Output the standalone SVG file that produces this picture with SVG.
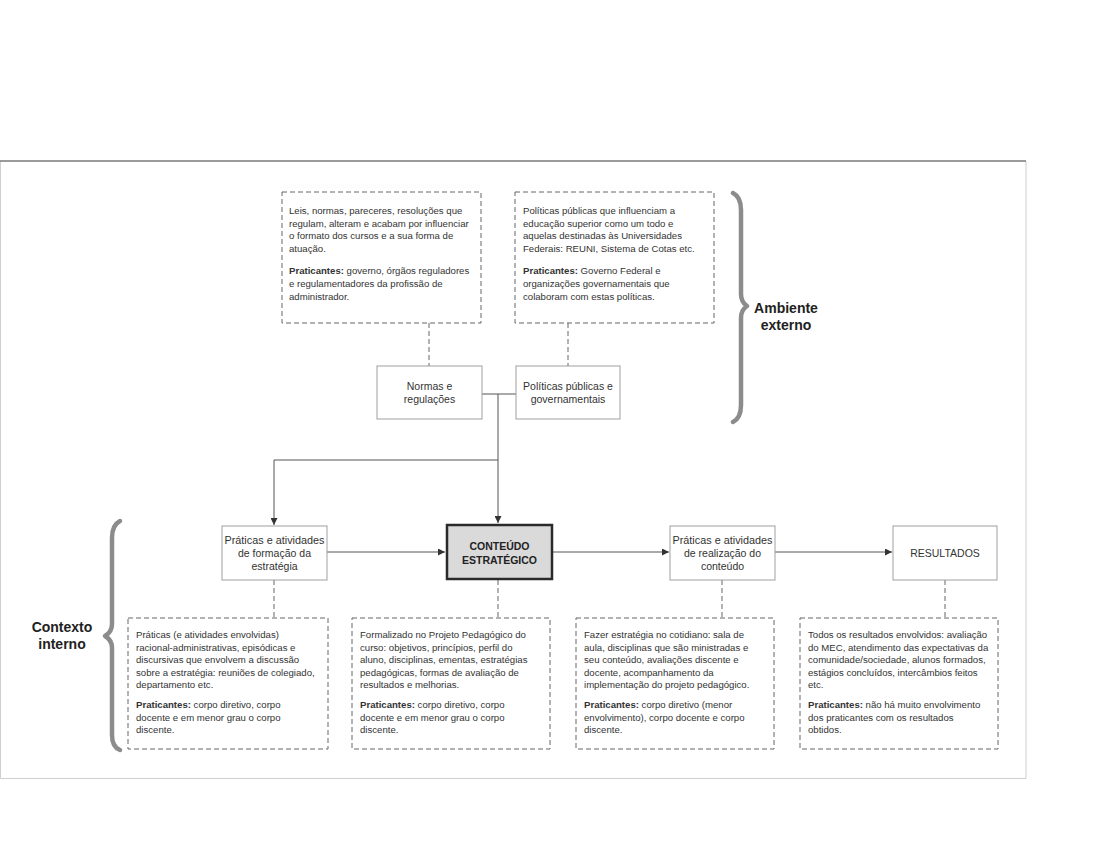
<svg xmlns="http://www.w3.org/2000/svg" width="1106" height="863" viewBox="0 0 1106 863">
<defs>
<style>
.t{font-family:"Liberation Sans",Arial,sans-serif;font-size:9.6px;fill:#333}
.b{font-weight:bold}
.n{font-family:"Liberation Sans",Arial,sans-serif;font-size:10.5px;fill:#333;text-anchor:middle}
.big{font-family:"Liberation Sans",Arial,sans-serif;font-size:14px;font-weight:bold;fill:#222;text-anchor:middle}
.dash{fill:#fff;stroke:#666;stroke-width:1;stroke-dasharray:5 3}
.dl{fill:none;stroke:#666;stroke-width:1;stroke-dasharray:5 3}
.box{fill:#fff;stroke:#a0a0a0;stroke-width:1}
.ln{fill:none;stroke:#555;stroke-width:1}
.brace{fill:none;stroke:#8c8c8c;stroke-width:4.5;stroke-linecap:round;stroke-linejoin:round}
</style>
<marker id="ah" viewBox="0 0 10 10" refX="10" refY="5" markerWidth="7" markerHeight="7" markerUnits="userSpaceOnUse" orient="auto">
<path d="M0,0 L10,5 L0,10 z" fill="#333"/>
</marker>
</defs>
<rect x="0" y="0" width="1106" height="863" fill="#fff"/>
<g id="frame">
<path d="M0.5,161 V778.5 H1026 V161" fill="none" stroke="#cfcfcf" stroke-width="1"/>
<line x1="0" y1="161" x2="1026" y2="161" stroke="#7a7a7a" stroke-width="1.5"/>
</g>
<g id="connectors">
<line class="dl" x1="429" y1="323" x2="429" y2="366"/>
<line class="dl" x1="568" y1="323" x2="568" y2="366"/>
<line class="ln" x1="482" y1="394" x2="516" y2="394"/>
<line class="ln" x1="498" y1="394" x2="498" y2="523" marker-end="url(#ah)"/>
<polyline class="ln" points="498,460 274,460 274,525" marker-end="url(#ah)"/>
<line class="ln" x1="327" y1="552" x2="445" y2="552" marker-end="url(#ah)"/>
<line class="ln" x1="552" y1="552" x2="669" y2="552" marker-end="url(#ah)"/>
<line class="ln" x1="775" y1="552" x2="892" y2="552" marker-end="url(#ah)"/>
<line class="dl" x1="274" y1="580" x2="274" y2="618"/>
<line class="dl" x1="498" y1="580" x2="498" y2="618"/>
<line class="dl" x1="722" y1="580" x2="722" y2="618"/>
<line class="dl" x1="945" y1="580" x2="945" y2="618"/>
</g>
<g id="ext1">
<rect class="dash" x="282" y="192" width="199" height="131"/>
<text class="t" x="289" y="214">Leis, normas, pareceres, resoluções que</text>
<text class="t" x="289" y="226.5">regulam, alteram e acabam por influenciar</text>
<text class="t" x="289" y="239">o formato dos cursos e a sua forma de</text>
<text class="t" x="289" y="251.5">atuação.</text>
<text class="t" x="289" y="274"><tspan class="b">Praticantes:</tspan> governo, órgãos reguladores</text>
<text class="t" x="289" y="287">e regulamentadores da profissão de</text>
<text class="t" x="289" y="299.5">administrador.</text>
</g>
<g id="ext2">
<rect class="dash" x="515" y="192" width="199" height="131"/>
<text class="t" x="523" y="214">Políticas públicas que influenciam a</text>
<text class="t" x="523" y="226.5">educação superior como um todo e</text>
<text class="t" x="523" y="239">aquelas destinadas às Universidades</text>
<text class="t" x="523" y="251.5">Federais: REUNI, Sistema de Cotas etc.</text>
<text class="t" x="523" y="274"><tspan class="b">Praticantes:</tspan> Governo Federal e</text>
<text class="t" x="523" y="287">organizações governamentais que</text>
<text class="t" x="523" y="299.5">colaboram com estas políticas.</text>
</g>
<g id="normas">
<rect class="box" x="377" y="366" width="105" height="53"/>
<text class="n" x="429.5" y="390">Normas e</text>
<text class="n" x="429.5" y="403">regulações</text>
</g>
<g id="politicas">
<rect class="box" x="516" y="366" width="104" height="53"/>
<text class="n" x="568" y="390">Políticas públicas e</text>
<text class="n" x="568" y="403">governamentais</text>
</g>
<g id="brace-ext">
<path class="brace" d="M733,193 Q741,197 741,210 V294 Q741,302 747,306 Q741,310 741,318 V405 Q741,418 733,422"/>
<text class="big" x="786" y="313">Ambiente</text>
<text class="big" x="786" y="330">externo</text>
</g>
<g id="formacao">
<rect class="box" x="222" y="526" width="105" height="54"/>
<text class="n" x="274.5" y="544" textLength="100" lengthAdjust="spacingAndGlyphs">Práticas e atividades</text>
<text class="n" x="274.5" y="557">de formação da</text>
<text class="n" x="274.5" y="570">estratégia</text>
</g>
<g id="conteudo">
<rect x="447" y="525" width="105" height="54" fill="#dadada" stroke="#2a2a2a" stroke-width="2.5"/>
<text class="n b" x="499.5" y="550" style="font-size:10.5px;fill:#222">CONTEÚDO</text>
<text class="n b" x="499.5" y="564" style="font-size:10.5px;fill:#222">ESTRATÉGICO</text>
</g>
<g id="realizacao">
<rect class="box" x="670" y="526" width="105" height="54"/>
<text class="n" x="722.5" y="544" textLength="100" lengthAdjust="spacingAndGlyphs">Práticas e atividades</text>
<text class="n" x="722.5" y="557">de realização do</text>
<text class="n" x="722.5" y="570">conteúdo</text>
</g>
<g id="resultados">
<rect class="box" x="893" y="526" width="104" height="54"/>
<text class="n" x="945" y="556.5">RESULTADOS</text>
</g>
<g id="brace-int">
<path class="brace" d="M120,521 Q112,525 112,538 V624 Q112,632 105,636 Q112,640 112,648 V735 Q112,747 120,750"/>
<text class="big" x="62" y="632">Contexto</text>
<text class="big" x="62" y="649">interno</text>
</g>
<g id="int1">
<rect class="dash" x="128" y="618" width="200" height="131"/>
<text class="t" x="136" y="638">Práticas (e atividades envolvidas)</text>
<text class="t" x="136" y="650.5">racional-administrativas, episódicas e</text>
<text class="t" x="136" y="663">discursivas que envolvem a discussão</text>
<text class="t" x="136" y="675.5">sobre a estratégia: reuniões de colegiado,</text>
<text class="t" x="136" y="688">departamento etc.</text>
<text class="t" x="136" y="708"><tspan class="b">Praticantes:</tspan> corpo diretivo, corpo</text>
<text class="t" x="136" y="720.5">docente e em menor grau o corpo</text>
<text class="t" x="136" y="733">discente.</text>
</g>
<g id="int2">
<rect class="dash" x="352" y="618" width="198" height="131"/>
<text class="t" x="360" y="638">Formalizado no Projeto Pedagógico do</text>
<text class="t" x="360" y="650.5">curso: objetivos, princípios, perfil do</text>
<text class="t" x="360" y="663">aluno, disciplinas, ementas, estratégias</text>
<text class="t" x="360" y="675.5">pedagógicas, formas de avaliação de</text>
<text class="t" x="360" y="688">resultados e melhorias.</text>
<text class="t" x="360" y="708"><tspan class="b">Praticantes:</tspan> corpo diretivo, corpo</text>
<text class="t" x="360" y="720.5">docente e em menor grau o corpo</text>
<text class="t" x="360" y="733">discente.</text>
</g>
<g id="int3">
<rect class="dash" x="576" y="618" width="198" height="131"/>
<text class="t" x="584" y="638">Fazer estratégia no cotidiano: sala de</text>
<text class="t" x="584" y="650.5">aula, disciplinas que são ministradas e</text>
<text class="t" x="584" y="663">seu conteúdo, avaliações discente e</text>
<text class="t" x="584" y="675.5">docente, acompanhamento da</text>
<text class="t" x="584" y="688">implementação do projeto pedagógico.</text>
<text class="t" x="584" y="708"><tspan class="b">Praticantes:</tspan> corpo diretivo (menor</text>
<text class="t" x="584" y="720.5">envolvimento), corpo docente e corpo</text>
<text class="t" x="584" y="733">discente.</text>
</g>
<g id="int4">
<rect class="dash" x="800" y="618" width="198" height="131"/>
<text class="t" x="808" y="638">Todos os resultados envolvidos: avaliação</text>
<text class="t" x="808" y="650.5">do MEC, atendimento das expectativas da</text>
<text class="t" x="808" y="663">comunidade/sociedade, alunos formados,</text>
<text class="t" x="808" y="675.5">estágios concluídos, intercâmbios feitos</text>
<text class="t" x="808" y="688">etc.</text>
<text class="t" x="808" y="708"><tspan class="b">Praticantes:</tspan> não há muito envolvimento</text>
<text class="t" x="808" y="720.5">dos praticantes com os resultados</text>
<text class="t" x="808" y="733">obtidos.</text>
</g>
</svg>
